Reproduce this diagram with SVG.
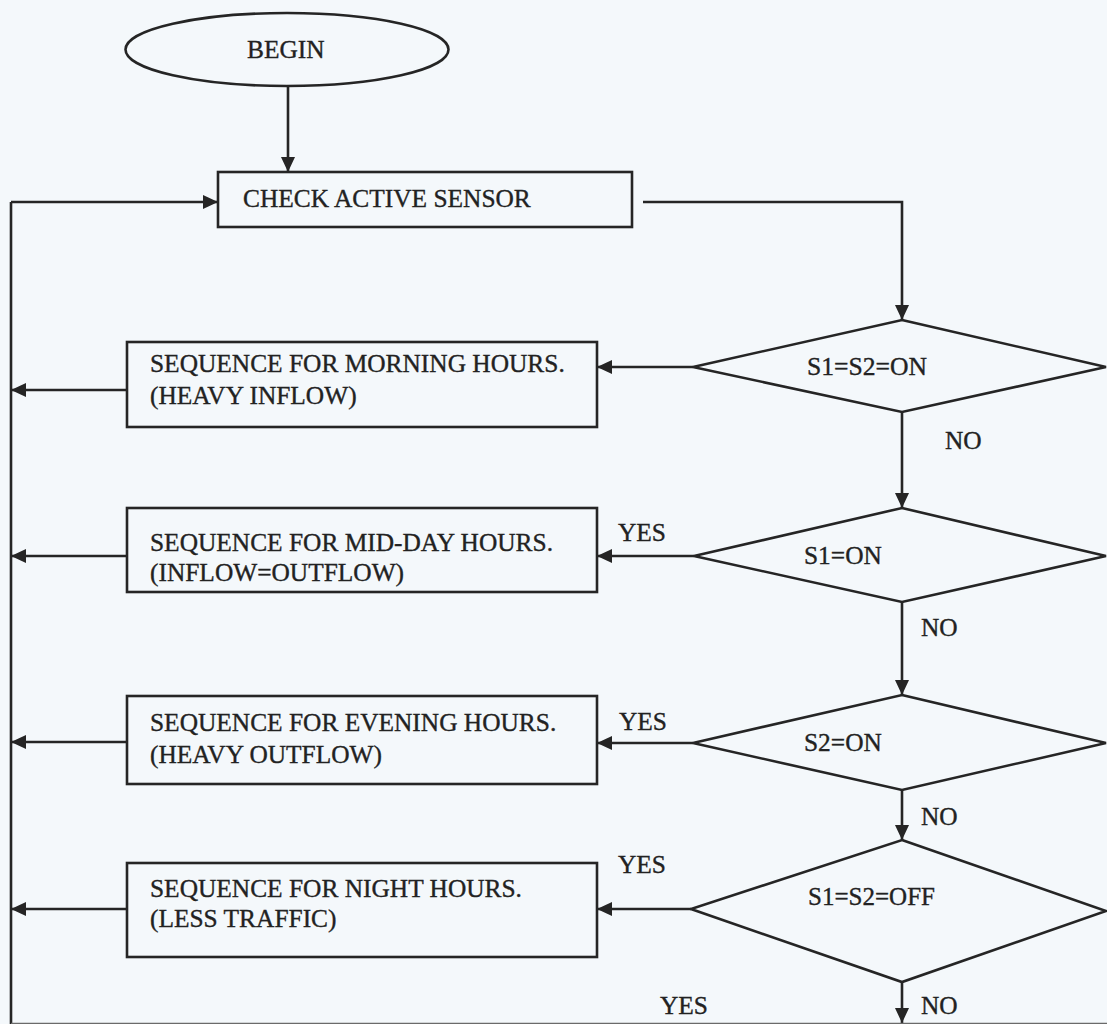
<svg xmlns="http://www.w3.org/2000/svg" width="1107" height="1024" viewBox="0 0 1107 1024">
  <defs>
    <marker id="arrow" markerUnits="userSpaceOnUse" markerWidth="16" markerHeight="14" refX="15" refY="7" orient="auto">
      <path d="M0,0 L15,7 L0,14 z" fill="#252525"/>
    </marker>
    <style>
      .shape { fill: none; stroke: #252525; stroke-width: 2.6; }
      .wire { fill: none; stroke: #252525; stroke-width: 2.6; }
      .lbl { font-family: "Liberation Serif", "Times New Roman", serif; font-size: 25.4px; fill: #222222; stroke: #222222; stroke-width: 0.35; }
    </style>
  </defs>

  <rect x="0" y="0" width="1107" height="1024" fill="#f4f8fb"/>

  <!-- connectors and branch labels -->
  <g id="connectors">
    <line class="wire" x1="288" y1="86" x2="288" y2="172" marker-end="url(#arrow)"/>
    <polyline class="wire" points="643,202 902,202 902,320" marker-end="url(#arrow)"/>
    <line class="wire" x1="902" y1="412" x2="902" y2="508" marker-end="url(#arrow)"/>
    <line class="wire" x1="902" y1="602" x2="902" y2="695" marker-end="url(#arrow)"/>
    <line class="wire" x1="902" y1="790" x2="902" y2="840" marker-end="url(#arrow)"/>
    <line class="wire" x1="902" y1="982" x2="902" y2="1023" marker-end="url(#arrow)"/>
    <line class="wire" x1="693" y1="367" x2="597" y2="367" marker-end="url(#arrow)"/>
    <line class="wire" x1="694" y1="556" x2="597" y2="556" marker-end="url(#arrow)"/>
    <line class="wire" x1="693" y1="743" x2="597" y2="743" marker-end="url(#arrow)"/>
    <line class="wire" x1="691" y1="909" x2="597" y2="909" marker-end="url(#arrow)"/>
    <!-- return loop on the left -->
    <line class="wire" x1="11" y1="1024" x2="11" y2="202"/>
    <line class="wire" x1="11" y1="202" x2="218" y2="202" marker-end="url(#arrow)"/>
    <line class="wire" x1="127" y1="390" x2="11" y2="390" marker-end="url(#arrow)"/>
    <line class="wire" x1="127" y1="556" x2="11" y2="556" marker-end="url(#arrow)"/>
    <line class="wire" x1="127" y1="742" x2="11" y2="742" marker-end="url(#arrow)"/>
    <line class="wire" x1="127" y1="909" x2="11" y2="909" marker-end="url(#arrow)"/>
    <line x1="11" y1="1023.5" x2="1107" y2="1023.5" stroke="#6a6a6a" stroke-width="1.5"/>
    <text class="lbl" x="945" y="449">NO</text>
    <text class="lbl" x="618" y="541">YES</text>
    <text class="lbl" x="921" y="636">NO</text>
    <text class="lbl" x="619" y="730">YES</text>
    <text class="lbl" x="921" y="825">NO</text>
    <text class="lbl" x="618" y="873">YES</text>
    <text class="lbl" x="660" y="1014">YES</text>
    <text class="lbl" x="921" y="1014">NO</text>
  </g>

  <g id="begin">
    <ellipse class="shape" cx="287" cy="49.5" rx="161.5" ry="36.5"/>
    <text class="lbl" x="247" y="58">BEGIN</text>
  </g>

  <g id="check-sensor">
    <rect class="shape" x="218" y="172" width="414" height="55"/>
    <text class="lbl" x="243" y="207">CHECK ACTIVE SENSOR</text>
  </g>

  <g id="both-on">
    <polygon class="shape" points="902,320 1106,367 902,412 693,367"/>
    <text class="lbl" x="807" y="375" textLength="120" lengthAdjust="spacingAndGlyphs">S1=S2=ON</text>
  </g>

  <g id="morning">
    <rect class="shape" x="127" y="342" width="470" height="85"/>
    <text class="lbl" x="150" y="372">SEQUENCE FOR MORNING HOURS.</text>
    <text class="lbl" x="150" y="404">(HEAVY INFLOW)</text>
  </g>

  <g id="s1-on">
    <polygon class="shape" points="902,508 1106,556 902,602 694,556"/>
    <text class="lbl" x="804" y="564">S1=ON</text>
  </g>

  <g id="midday">
    <rect class="shape" x="127" y="508" width="470" height="84"/>
    <text class="lbl" x="150" y="551">SEQUENCE FOR MID-DAY HOURS.</text>
    <text class="lbl" x="150" y="581">(INFLOW=OUTFLOW)</text>
  </g>

  <g id="s2-on">
    <polygon class="shape" points="902,695 1106,743 902,790 693,743"/>
    <text class="lbl" x="804" y="751">S2=ON</text>
  </g>

  <g id="evening">
    <rect class="shape" x="127" y="696" width="470" height="88"/>
    <text class="lbl" x="150" y="731">SEQUENCE FOR EVENING HOURS.</text>
    <text class="lbl" x="150" y="763">(HEAVY OUTFLOW)</text>
  </g>

  <g id="both-off">
    <polygon class="shape" points="902,840 1106,911 902,982 691,909"/>
    <text class="lbl" x="808" y="905" textLength="127" lengthAdjust="spacingAndGlyphs">S1=S2=OFF</text>
  </g>

  <g id="night">
    <rect class="shape" x="127" y="863" width="470" height="94"/>
    <text class="lbl" x="150" y="897">SEQUENCE FOR NIGHT HOURS.</text>
    <text class="lbl" x="150" y="927">(LESS TRAFFIC)</text>
  </g>
</svg>
